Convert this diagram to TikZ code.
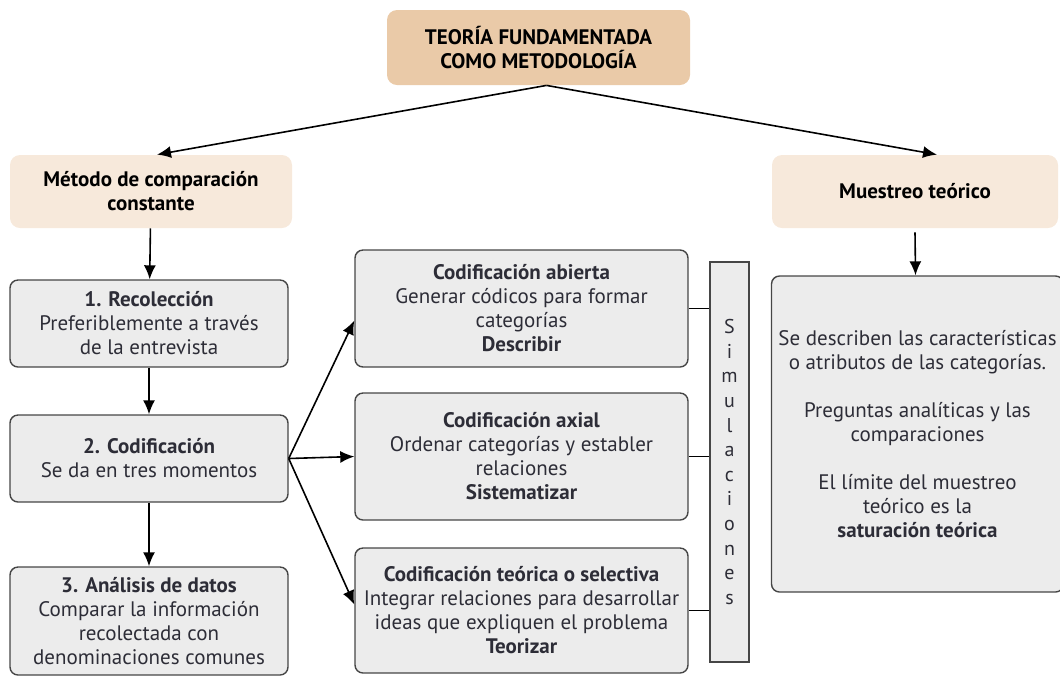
\documentclass[tikz,border=0pt]{standalone}
\usepackage{fontspec}
\setmainfont{PT Sans}
\usetikzlibrary{arrows.meta}
\definecolor{tanA}{RGB}{234,202,168}
\definecolor{tanB}{RGB}{247,233,219}
\definecolor{boxgray}{RGB}{236,236,236}
\definecolor{boxline}{RGB}{70,70,70}
\definecolor{txt}{RGB}{45,45,55}
\tikzset{
  head/.style={fill=#1, rounded corners=5pt, align=center, font=\fontsize{10.5}{12}\selectfont\bfseries, text=black},
  graybox/.style={draw=boxline, fill=boxgray, rounded corners=4pt, line width=0.7pt, align=center, inner sep=2pt, font=\fontsize{10.5}{12}\selectfont, text=txt},
  conn/.style={-{Latex[length=7pt,width=6pt]}, line width=0.8pt},
  link/.style={line width=0.7pt}
}
\begin{document}
\begin{tikzpicture}[x=0.5pt,y=-0.5pt]
\useasboundingbox (0,0) rectangle (1060,677);

% headers
\node[head=tanA, minimum width=151.5pt, minimum height=37.5pt] (teoria) at (538.5,47.5) {TEORÍA FUNDAMENTADA\\COMO METODOLOGÍA};
\node[head=tanB, minimum width=141pt, minimum height=36.5pt] (metodo) at (151,191.5) {Método de comparación\\constante};
\node[head=tanB, minimum width=143pt, minimum height=36.5pt] (muestreo) at (915,191.5) {Muestreo teórico};

% left column
\node[graybox, minimum width=139pt, minimum height=43.5pt] (recol) at (149,323.5) {\textbf{1. Recolección}\\Preferiblemente a través\\de la entrevista};
\node[graybox, minimum width=139pt, minimum height=43.5pt] (codif) at (149,458.5) {\textbf{2. Codificación}\\Se da en tres momentos};
\node[graybox, minimum width=139pt, minimum height=54pt] (analisis) at (149,621) {\textbf{3. Análisis de datos}\\Comparar la información\\recolectada con\\denominaciones comunes};

% middle column
\node[graybox, minimum width=166.5pt, minimum height=58.5pt] (abierta) at (521.5,308.5) {\textbf{Codificación abierta}\\Generar códicos para formar\\categorías\\\textbf{Describir}};
\node[graybox, minimum width=166.5pt, minimum height=63.5pt] (axial) at (521.5,456.5) {\textbf{Codificación axial}\\Ordenar categorías y establer\\relaciones\\\textbf{Sistematizar}};
\node[graybox, minimum width=166.5pt, minimum height=62.5pt] (selectiva) at (521.5,610.5) {\textbf{Codificación teórica o selectiva}\\Integrar relaciones para desarrollar\\ideas que expliquen el problema\\\textbf{Teorizar}};

\node[draw=boxline, fill=boxgray, line width=0.8pt, minimum width=19.5pt, minimum height=200pt, align=center, inner sep=0pt, font=\fontsize{10}{12.3}\selectfont, text=txt] (simul) at (729.5,462) {S\\i\\m\\u\\l\\a\\c\\i\\o\\n\\e\\s};

% right column
\node[graybox, minimum width=146pt, minimum height=158pt] (satur) at (917.5,434) {Se describen las características\\o atributos de las categorías.\\[12pt]Preguntas analíticas y las\\comparaciones\\[12pt]El límite del muestreo\\teórico es la\\\textbf{saturación teórica}};

% arrows
\draw[conn] ([xshift=4pt]teoria.south) -- ([xshift=3pt]metodo.north);
\draw[conn] ([xshift=4pt]teoria.south) -- ([xshift=11pt]muestreo.north);
\draw[conn] (metodo) -- (recol);
\draw[conn] (recol) -- (codif);
\draw[conn] (codif) -- (analisis);
\draw[conn] ([yshift=-2pt]muestreo.south) -- (satur);
\draw[conn] (codif.east) -- ([yshift=-6pt]abierta.west);
\draw[conn] (codif.east) -- (axial.west);
\draw[conn] (codif.east) -- ([yshift=3pt]selectiva.west);

% links to simulaciones
\draw[link] (abierta.east) -- (abierta.east -| simul.west);
\draw[link] (axial.east) -- (axial.east -| simul.west);
\draw[link] (selectiva.east) -- (selectiva.east -| simul.west);
\end{tikzpicture}
\end{document}
